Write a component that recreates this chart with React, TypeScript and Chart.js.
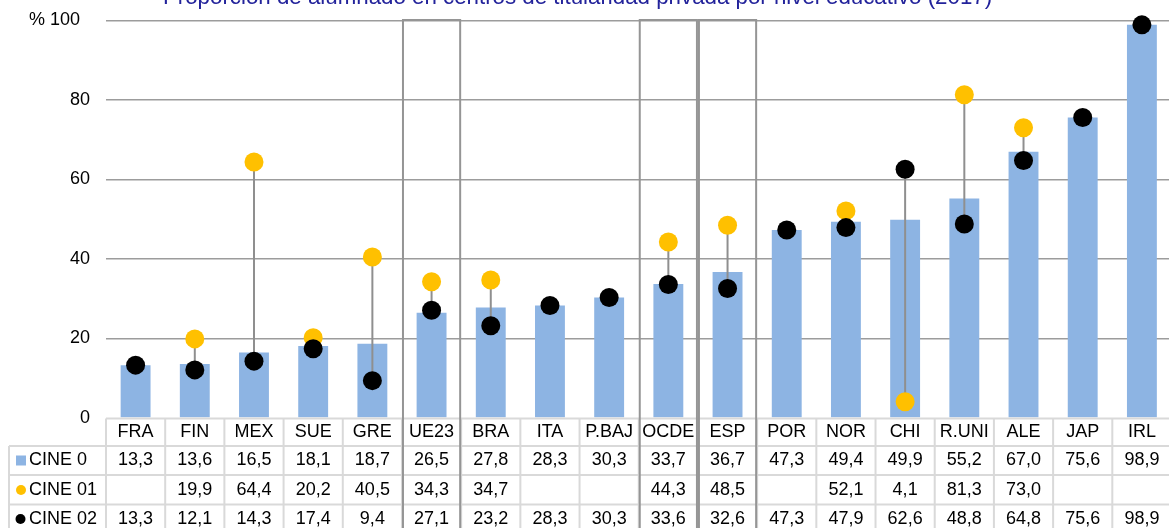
import React, { useEffect, useRef } from 'react';
import { Chart, registerables } from 'chart.js';

Chart.register(...registerables);

const title = 'Proporción de alumnado en centros de titularidad privada por nivel educativo (2017)';
const categories = ['FRA', 'FIN', 'MEX', 'SUE', 'GRE', 'UE23', 'BRA', 'ITA', 'P.BAJ', 'OCDE', 'ESP', 'POR', 'NOR', 'CHI', 'R.UNI', 'ALE', 'JAP', 'IRL'];
const cine0 = [13.3, 13.6, 16.5, 18.1, 18.7, 26.5, 27.8, 28.3, 30.3, 33.7, 36.7, 47.3, 49.4, 49.9, 55.2, 67.0, 75.6, 98.9];
const cine01 = [null, 19.9, 64.4, 20.2, 40.5, 34.3, 34.7, null, null, 44.3, 48.5, null, 52.1, 4.1, 81.3, 73.0, null, null];
const cine02 = [13.3, 12.1, 14.3, 17.4, 9.4, 27.1, 23.2, 28.3, 30.3, 33.6, 32.6, 47.3, 47.9, 62.6, 48.8, 64.8, 75.6, 98.9];
const seriesNames = ['CINE 0', 'CINE 01', 'CINE 02'];
const highlighted = ['UE23', 'OCDE', 'ESP'];
const yTicks = [0, 20, 40, 60, 80, 100];

const FONT = '"Liberation Sans", Arial, sans-serif';
const BAR_COLOR = '#8DB4E3';
const YELLOW = '#FFC000';
const BLACK = '#000000';

const fmt = (v: number | null) => (v === null || v === undefined ? '' : v.toFixed(1).replace('.', ','));

const titlePlugin = {
  id: 'topTitle',
  afterDraw(chart: any) {
    const ctx = chart.ctx;
    ctx.save();
    ctx.font = `22.3px ${FONT}`;
    ctx.fillStyle = '#23239B';
    ctx.textAlign = 'center';
    ctx.textBaseline = 'alphabetic';
    ctx.fillText(title, 577.5, 4);
    ctx.restore();
  },
};

const hiLowPlugin = {
  id: 'hiLow',
  afterDatasetDraw(chart: any, args: any) {
    if (args.index !== 0) return;
    const ctx = chart.ctx;
    const x = chart.scales.x;
    const y = chart.scales.y;
    ctx.save();
    ctx.strokeStyle = '#8F8F8F';
    ctx.lineWidth = 2;
    categories.forEach((_, i) => {
      const vals = [cine01[i], cine02[i]].filter((v) => v !== null) as number[];
      if (vals.length < 2) return;
      const hi = Math.max(...vals);
      const lo = Math.min(...vals);
      if (hi === lo) return;
      const px = x.getPixelForValue(i);
      ctx.beginPath();
      ctx.moveTo(px, y.getPixelForValue(hi));
      ctx.lineTo(px, y.getPixelForValue(lo));
      ctx.stroke();
    });
    ctx.restore();
  },
};

const tablePlugin = {
  id: 'dataTable',
  afterDraw(chart: any) {
    const ctx = chart.ctx;
    const x = chart.scales.x;
    const area = chart.chartArea;
    const W = chart.width;
    const H = chart.height;
    const colW = x.getPixelForValue(1) - x.getPixelForValue(0);
    const y0 = area.bottom + 0.5;
    const rowLines = [y0, y0 + 27.5, y0 + 56.5, y0 + 86];
    const rowCenters = [y0 + 14, y0 + 42, y0 + 71.5, y0 + 100.5];
    const legendLeft = 9;

    ctx.save();
    ctx.strokeStyle = '#D9D9D9';
    ctx.lineWidth = 2;
    ctx.beginPath();
    ctx.moveTo(area.left, rowLines[0]);
    ctx.lineTo(W, rowLines[0]);
    for (let r = 1; r < rowLines.length; r++) {
      ctx.moveTo(legendLeft, rowLines[r]);
      ctx.lineTo(W, rowLines[r]);
    }
    ctx.moveTo(legendLeft, rowLines[1]);
    ctx.lineTo(legendLeft, H + 5);
    for (let i = 0; i <= categories.length; i++) {
      const bx = x.getPixelForValue(0) - colW / 2 + i * colW;
      ctx.moveTo(bx, rowLines[0]);
      ctx.lineTo(bx, H + 5);
    }
    ctx.stroke();

    ctx.fillStyle = '#000';
    ctx.font = `18px ${FONT}`;
    ctx.textAlign = 'center';
    ctx.textBaseline = 'middle';
    const rows = [cine0, cine01, cine02];
    categories.forEach((c, i) => {
      const cx = x.getPixelForValue(i);
      ctx.fillText(c, cx, rowCenters[0]);
      rows.forEach((arr, r) => {
        ctx.fillText(fmt(arr[i] as number | null), cx, rowCenters[r + 1]);
      });
    });

    // legend keys
    ctx.textAlign = 'left';
    seriesNames.forEach((name, r) => {
      const cy = rowCenters[r + 1];
      if (r === 0) {
        ctx.fillStyle = BAR_COLOR;
        ctx.fillRect(16, cy - 5, 10, 10);
      } else {
        ctx.fillStyle = r === 1 ? YELLOW : BLACK;
        ctx.beginPath();
        ctx.arc(r === 1 ? 21 : 20.5, cy, 5, 0, Math.PI * 2);
        ctx.fill();
      }
      ctx.fillStyle = '#000';
      ctx.fillText(name, 29, cy);
    });

    // highlight boxes
    ctx.strokeStyle = '#959595';
    ctx.lineWidth = 2;
    highlighted.forEach((h) => {
      const i = categories.indexOf(h);
      const cx = x.getPixelForValue(i);
      const l = cx - colW / 2 + 1;
      const r = cx + colW / 2 - 1;
      ctx.beginPath();
      ctx.moveTo(l, H + 5);
      ctx.lineTo(l, area.top - 0.5);
      ctx.lineTo(r, area.top - 0.5);
      ctx.lineTo(r, H + 5);
      ctx.stroke();
    });
    ctx.restore();
  },
};

export default function App() {
  const canvasRef = useRef<HTMLCanvasElement | null>(null);

  useEffect(() => {
    if (!canvasRef.current) return;
    const chart = new Chart(canvasRef.current, {
      type: 'bar',
      data: {
        labels: categories,
        datasets: [
          {
            type: 'bar',
            label: seriesNames[0],
            data: cine0,
            backgroundColor: BAR_COLOR,
            borderWidth: 0,
            barPercentage: 0.505,
            categoryPercentage: 1,
            order: 3,
          } as any,
          {
            type: 'line',
            label: seriesNames[1],
            data: cine01,
            showLine: false,
            pointRadius: 9.5,
            pointHoverRadius: 9.5,
            pointBackgroundColor: YELLOW,
            pointBorderWidth: 0,
            borderColor: YELLOW,
            clip: false,
            order: 2,
          } as any,
          {
            type: 'line',
            label: seriesNames[2],
            data: cine02,
            showLine: false,
            pointRadius: 9.5,
            pointHoverRadius: 9.5,
            pointBackgroundColor: BLACK,
            pointBorderWidth: 0,
            borderColor: BLACK,
            clip: false,
            order: 1,
          } as any,
        ],
      },
      options: {
        responsive: false,
        animation: false,
        events: [],
        layout: { padding: { top: 20.5, bottom: 110, left: 0, right: 1 } },
        plugins: {
          legend: { display: false },
          tooltip: { enabled: false },
          title: { display: false },
        },
        scales: {
          x: {
            type: 'category',
            offset: true,
            display: false,
          },
          y: {
            min: 0,
            max: 100,
            afterFit: (s: any) => {
              s.width = 106;
              s.paddingTop = 0;
              s.paddingBottom = 0;
            },
            afterBuildTicks: (s: any) => {
              s.ticks = yTicks.map((v) => ({ value: v }));
            },
            ticks: {
              padding: 16,
              color: '#000',
              font: { size: 18, family: FONT },
              callback: (v: any) => (Number(v) === 100 ? '% 100  ' : String(v)),
            },
            grid: {
              drawTicks: false,
              color: (c: any) => (c.tick && c.tick.value === 0 ? 'rgba(0,0,0,0)' : '#9C9C9C'),
              lineWidth: 1.5,
            },
            border: { display: false },
          },
        },
      } as any,
      plugins: [hiLowPlugin, tablePlugin, titlePlugin],
    });
    return () => chart.destroy();
  }, []);

  return (
    <div style={{ position: 'fixed', left: 0, top: 0, width: 1169, height: 528, overflow: 'hidden', background: '#fff' }}>
      <canvas ref={canvasRef} width={1181} height={528} style={{ display: 'block' }} />
    </div>
  );
}
